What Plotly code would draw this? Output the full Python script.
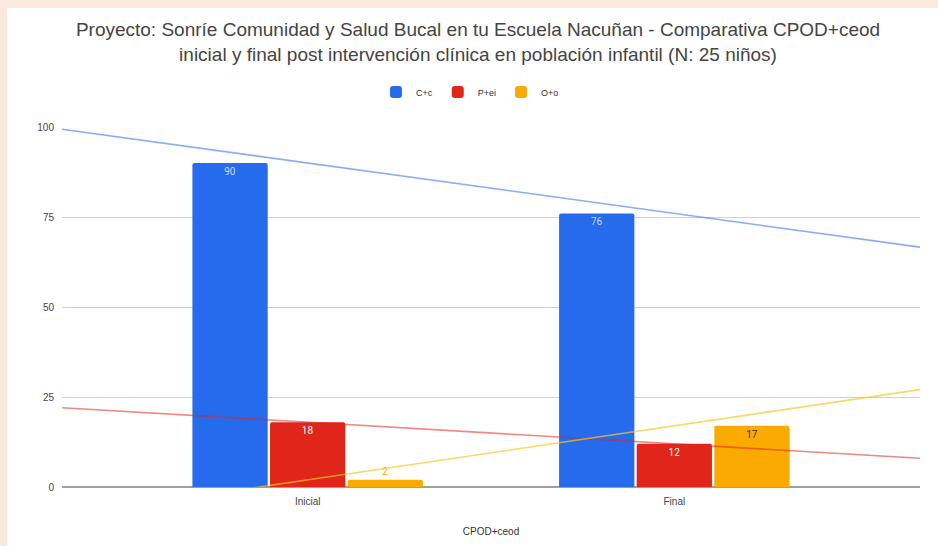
import numpy as np
import plotly.graph_objects as go

categories = ["Inicial", "Final"]
series_names = ["C+c", "P+ei", "O+o"]
cc_values = [90, 76]
pei_values = [18, 12]
oo_values = [2, 17]

colors = ["#256BEB", "#E0261A", "#FAAA00"]
trend_colors = ["rgba(37,107,235,0.55)", "rgba(224,38,26,0.55)", "rgba(250,200,30,0.7)"]
label_colors = [["#c9dbff", "#c9dbff"], ["#ffffff", "#ffffff"], ["#FAAA00", "#333333"]]
label_pos = [["inside", "inside"], ["inside", "inside"], ["outside", "inside"]]

W, H = 938, 546
ML, MR, MT, MB = 62, 18, 127, 59
XR = [-0.67, 1.67]

xpos = list(range(len(categories)))
all_values = [cc_values, pei_values, oo_values]

fig = go.Figure()
for name, vals, col, lc, lp in zip(series_names, all_values, colors, label_colors, label_pos):
    fig.add_trace(go.Bar(
        x=xpos, y=vals, name=name, marker=dict(color=col, line=dict(width=0)),
        text=[str(v) for v in vals], textposition=lp,
        insidetextanchor="end", textangle=0,
        textfont=dict(color=lc, size=10, family="Roboto, Arial, sans-serif"),
        cliponaxis=False,
    ))

for vals, tc in zip(all_values, trend_colors):
    m, b = np.polyfit(xpos, vals, 1)
    fig.add_trace(go.Scatter(
        x=XR, y=[m * XR[0] + b, m * XR[1] + b], mode="lines",
        line=dict(color=tc, width=1.6), showlegend=False, hoverinfo="skip",
    ))

# white panel over peach page background (left and top border)
px0 = (7 - ML) / (W - ML - MR)
px1 = (W + 5 - ML) / (W - ML - MR)
py1 = (H - 8 - MB) / (H - MT - MB)
py0 = (-5 - MB) / (H - MT - MB)
fig.add_shape(type="rect", xref="paper", yref="paper", x0=px0, x1=px1, y0=py0, y1=py1,
              fillcolor="white", line=dict(width=0), layer="below")

fig.update_layout(
    width=W, height=H,
    margin=dict(l=ML, r=MR, t=MT, b=MB),
    paper_bgcolor="#fce9de", plot_bgcolor="rgba(0,0,0,0)",
    font=dict(family="Arial, Liberation Sans, sans-serif", color="#444"),
    title=dict(
        text="Proyecto: Sonríe Comunidad y Salud Bucal en tu Escuela Nacuñan - Comparativa CPOD+ceod<br>inicial y final post intervención clínica en población infantil (N: 25 niños)",
        x=(478 - ML) / (W - ML - MR), xref="paper", xanchor="center",
        y=1 - 36 / H, yanchor="middle",
        font=dict(size=19, color="#444"),
    ),
    legend=dict(orientation="h", x=(470 - ML) / (W - ML - MR), xanchor="center",
                y=1 + 35 / (H - MT - MB), yanchor="middle",
                font=dict(size=9, color="#333"), itemwidth=30, bgcolor="rgba(0,0,0,0)"),
    barmode="group", bargap=0.365, bargroupgap=0.03, barcornerradius=2,
    xaxis=dict(range=XR, tickvals=xpos, ticktext=categories, showgrid=False, zeroline=False,
               showline=False, ticks="", ticklabelstandoff=7, tickfont=dict(size=10, color="#444"),
               title=dict(text="CPOD+ceod", font=dict(size=10, color="#333"), standoff=21)),
    yaxis=dict(range=[0, 100], tickvals=[0, 25, 50, 75, 100], gridcolor="#d0d0d0", gridwidth=1,
               zeroline=True, zerolinecolor="#9e9e9e", zerolinewidth=2, showline=False,
               ticks="", ticklabelstandoff=7, tickfont=dict(size=10, color="#444")),
)

fig.write_html("out.html", config={"displayModeBar": False},
               post_script="document.body.style.margin='0';document.body.style.overflow='hidden';")
